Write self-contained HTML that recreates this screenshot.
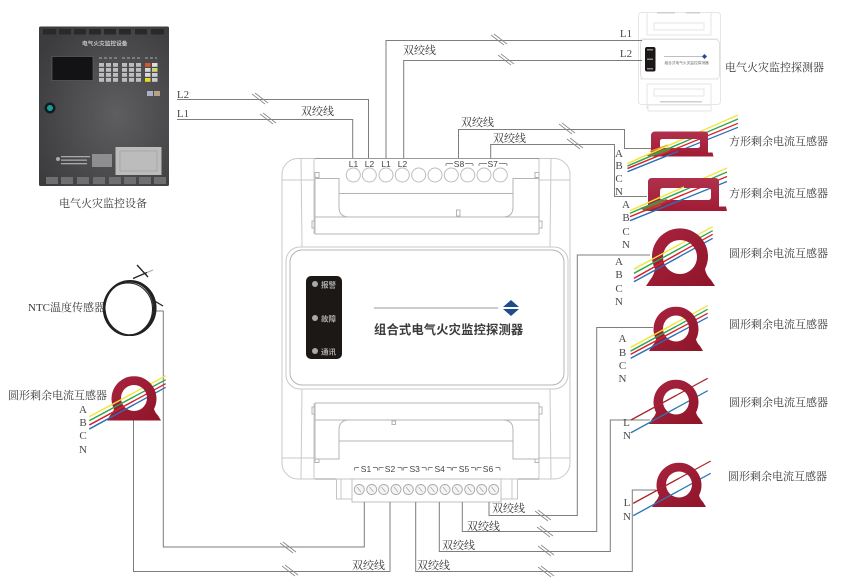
<!DOCTYPE html>
<html><head><meta charset="utf-8"><style>
html,body{margin:0;padding:0;background:#fff}
svg{display:block;filter:blur(.3px)}
.t{font-family:"Liberation Serif","Noto Serif CJK SC",serif;font-size:11px;fill:#3a3a3a}
.l{font-family:"Liberation Serif","Noto Serif CJK SC",serif;font-size:11px;fill:#4a4a4a}
.s{font-family:"Liberation Sans",sans-serif;font-size:8.5px;fill:#444;text-anchor:middle}
.w{fill:none;stroke:#7d7d7d;stroke-width:1}
.d{fill:none;stroke:#c9c9c9;stroke-width:1}
.d2{fill:none;stroke:#b4b4b4;stroke-width:1}
</style></head><body>
<svg width="850" height="587" viewBox="0 0 850 587" xmlns="http://www.w3.org/2000/svg">
<defs>
<radialGradient id="pg" cx="60%" cy="55%" r="70%"><stop offset="0" stop-color="#5e5e60"/><stop offset="1" stop-color="#3c3c3e"/></radialGradient>
<linearGradient id="rg" x1="0" y1="0" x2="1" y2="1"><stop offset="0" stop-color="#a92340"/><stop offset="1" stop-color="#8e1528"/></linearGradient>
<linearGradient id="sq" x1="0" y1="0" x2="0" y2="1"><stop offset="0" stop-color="#b0304c"/><stop offset="1" stop-color="#a01c34"/></linearGradient>
<g id="sl"><path d="M0 0L13 10M3 -1L16 9" fill="none" stroke="#888" stroke-width=".8"/></g>
<path id="ring" fill="url(#rg)" fill-rule="evenodd" d="M649 351L652 346Q655 343 656 339.5A22.5 22.5 0 1 1 696 339.5Q697 343 700 346L703 351ZM663 328.5a13 13 0 1 0 26 0a13 13 0 1 0 -26 0Z"/>
<path id="br" fill="none" stroke="#555" stroke-width=".7" d="M-11.5 3V1Q-11.5 0 -10.5 0H-7M7 0H10.5Q11.5 0 11.5 1V3"/>
<g id="w1" stroke-width="1.3"><path d="M627.500 163.500L738 115" stroke="#f2e53a"/><path d="M627.500 166L738 119" stroke="#2ea650"/><path d="M627.500 168.500L738 123.300" stroke="#d9222d"/><path d="M627.500 171.700L738 127.300" stroke="#2c70b8"/></g>
<g id="w2" stroke-width="1.3"><path d="M630 210.700L727 168" stroke="#f2e53a"/><path d="M630 213.300L727 172" stroke="#2ea650"/><path d="M630 216.700L727 176.500" stroke="#d9222d"/><path d="M630 220.700L727 181.500" stroke="#2c70b8"/></g>
<g id="w3" stroke-width="1.3"><path d="M634 269L712.7 226.7" stroke="#f2e53a"/><path d="M634 273.3L712.7 230.7" stroke="#2ea650"/><path d="M634 278.3L712.7 234.3" stroke="#d9222d"/><path d="M634 281.7L712.7 238.3" stroke="#2c70b8"/></g>
<g id="w4" stroke-width="1.3"><path d="M630.7 347.3L707.7 305.7" stroke="#f2e53a"/><path d="M630.7 351L707.7 309.3" stroke="#2ea650"/><path d="M630.7 354.3L707.7 313.3" stroke="#d9222d"/><path d="M630.7 358.3L707.7 317.3" stroke="#2c70b8"/></g>
<g id="w5" stroke-width="1.2"><path d="M631 420L707.7 378.3" stroke="#a8262c"/><path d="M631 432.7L707.7 390.7" stroke="#2a7ab5"/></g>
<g id="w6" stroke-width="1.2"><path d="M633.3 503.3L710.7 461" stroke="#a8262c"/><path d="M633.3 515.7L710.7 473.3" stroke="#2a7ab5"/></g>
<g id="w7" stroke-width="1.3"><path d="M89.3 416.7L165.7 375.7" stroke="#f2e53a"/><path d="M89.3 420.7L165.7 379.7" stroke="#2ea650"/><path d="M89.3 425L165.7 383.7" stroke="#d9222d"/><path d="M89.3 429L165.7 387.3" stroke="#2c70b8"/></g>
<clipPath id="c1"><rect x="600" y="100" width="78" height="90"/></clipPath>
<clipPath id="c2"><rect x="600" y="150" width="84" height="90"/></clipPath>
<clipPath id="c3"><rect x="600" y="210" width="80" height="90"/></clipPath>
<clipPath id="c4"><rect x="600" y="290" width="76" height="80"/></clipPath>
<clipPath id="c5"><rect x="600" y="370" width="76" height="70"/></clipPath>
<clipPath id="c6"><rect x="600" y="450" width="79" height="70"/></clipPath>
<clipPath id="c7"><rect x="60" y="360" width="74" height="80"/></clipPath>
</defs>
<rect width="850" height="587" fill="#fff"/>

<!-- Monitor panel -->
<rect x="39" y="26.5" width="130" height="159.5" rx="1.5" fill="url(#pg)"/>
<g fill="#29292a"><rect x="43" y="29" width="13" height="5.500"/><rect x="59" y="29" width="12" height="5.500"/><rect x="74" y="29" width="12" height="5.500"/><rect x="89" y="29" width="12" height="5.500"/><rect x="104" y="29" width="12" height="5.500"/><rect x="119" y="29" width="12" height="5.500"/><rect x="135" y="29" width="12" height="5.500"/><rect x="151" y="29" width="13" height="5.500"/></g>
<g fill="#6e6f70"><rect x="46" y="177" width="12" height="7"/><rect x="61" y="177" width="12" height="7"/><rect x="77" y="177" width="12" height="7"/><rect x="93" y="177" width="12" height="7"/><rect x="109" y="177" width="12" height="7"/><rect x="124" y="177" width="12" height="7"/><rect x="139" y="177" width="12" height="7"/><rect x="154" y="177" width="12" height="7"/></g>
<text x="82" y="45.500" font-family="'Liberation Sans','Noto Sans CJK SC',sans-serif" font-size="5.700" font-weight="bold" fill="#c4c4c4">电气火灾监控设备</text>
<rect x="52" y="56.500" width="41" height="24" fill="#131316" stroke="#6a6a6a" stroke-width=".6"/>
<g fill="#bdbdbd"><rect x="99" y="63" width="5" height="3.800"/><rect x="106" y="63" width="5" height="3.800"/><rect x="113" y="63" width="5" height="3.800"/><rect x="122" y="63" width="5" height="3.800"/><rect x="129" y="63" width="5" height="3.800"/><rect x="136" y="63" width="5" height="3.800"/>
<rect x="99" y="68" width="5" height="3.800"/><rect x="106" y="68" width="5" height="3.800"/><rect x="113" y="68" width="5" height="3.800"/><rect x="122" y="68" width="5" height="3.800"/><rect x="129" y="68" width="5" height="3.800"/><rect x="136" y="68" width="5" height="3.800"/>
<rect x="99" y="73" width="5" height="3.800"/><rect x="106" y="73" width="5" height="3.800"/><rect x="113" y="73" width="5" height="3.800"/><rect x="122" y="73" width="5" height="3.800"/><rect x="129" y="73" width="5" height="3.800"/><rect x="136" y="73" width="5" height="3.800"/>
<rect x="99" y="78" width="5" height="3.800"/><rect x="106" y="78" width="5" height="3.800"/><rect x="113" y="78" width="5" height="3.800"/><rect x="122" y="78" width="5" height="3.800"/><rect x="129" y="78" width="5" height="3.800"/><rect x="136" y="78" width="5" height="3.800"/></g>
<rect x="145" y="63" width="5.500" height="3.800" fill="#d8562c"/><rect x="152" y="63" width="5.500" height="3.800" fill="#ddd"/>
<rect x="145" y="68" width="5.500" height="3.800" fill="#d8d8d8"/><rect x="152" y="68" width="5.500" height="3.800" fill="#cfd86a"/>
<rect x="145" y="73" width="5.500" height="3.800" fill="#d8d8d8"/><rect x="152" y="73" width="5.500" height="3.800" fill="#ccd"/>
<rect x="145" y="78" width="5.500" height="3.800" fill="#e8dc20"/><rect x="152" y="78" width="5.500" height="3.800" fill="#ccc"/>
<path d="M99 58H118M122 58H141M145 58H157" stroke="#8c8c8c" stroke-width="1.500" stroke-dasharray="3 2"/>
<rect x="147" y="91" width="6" height="5" fill="#a9b2c4"/><rect x="154" y="91" width="6" height="5" fill="#b8a088"/>
<circle cx="50" cy="108" r="5.500" fill="#0d1d20"/><circle cx="50" cy="108" r="3" fill="#1d9a9c"/>
<rect x="115.500" y="147" width="46" height="28" fill="#bcbcbc"/><rect x="120" y="151" width="37" height="20" fill="none" stroke="#999" stroke-width=".6"/>
<rect x="92" y="154" width="20" height="13" fill="#8e8e8e"/>
<g fill="#aaa"><circle cx="58" cy="159" r="2"/><rect x="61" y="156" width="29" height="1.300"/><rect x="61" y="159.500" width="26" height="1.300"/><rect x="61" y="163" width="26" height="1.300"/></g>

<!-- Detector outline -->
<rect x="282" y="158.500" width="288" height="320.500" rx="16" class="d"/>
<g class="d">
<path d="M282 180H315M539 180H570M282 458H315M539 458H570"/>
<path d="M301 158.500L302 247M551 158.500L550 247M302 389L301 479M550 389L551 479"/>
<path d="M314 158.500V234M539 158.500V234M314 403V479M539 403V479"/>
<rect x="286" y="247" width="282" height="142" rx="14"/>
</g>
<g class="d2">
<rect x="290" y="250" width="274" height="135" rx="12"/>
<path d="M315 178.500H339V193.500H513V178.500H539"/>
<path d="M339 193.500V207Q339 217 349 217H503Q513 217 513 207V193.500"/>
<path d="M315 217H539M315 234H539M315 178.500V234M539 178.500V234"/>
<path d="M315 403H539M315 420H539M315 403V459M539 403V459"/>
<path d="M339 441V430Q339 420 349 420H503Q513 420 513 430V441M339 441H513"/>
<path d="M315 459H339V441M539 459H513V441"/>
<rect x="315" y="172.500" width="4" height="5"/><rect x="535" y="172.500" width="4" height="5"/>
<rect x="312" y="221" width="3" height="7"/><rect x="539" y="221" width="3" height="7"/>
<rect x="312" y="407" width="3" height="7"/><rect x="539" y="407" width="3" height="7"/>
<rect x="315" y="459" width="4" height="3.500"/><rect x="535" y="459" width="4" height="3.500"/>
<rect x="456.500" y="210" width="3.500" height="6"/><rect x="392" y="421" width="3.500" height="3.500"/>
</g>
<path d="M315 158.500H539M315 479H539" fill="none" stroke="#999"/>
<g fill="#fff" stroke="#bdbdbd" stroke-width="1"><circle cx="353.300" cy="175" r="7"/><circle cx="369.300" cy="175" r="7"/><circle cx="386" cy="175" r="7"/><circle cx="402.300" cy="175" r="7"/><circle cx="418.700" cy="175" r="7"/><circle cx="435" cy="175" r="7"/><circle cx="451.300" cy="175" r="7"/><circle cx="467.700" cy="175" r="7"/><circle cx="484" cy="175" r="7"/><circle cx="500.300" cy="175" r="7"/></g>
<text x="353.500" y="167" class="s">L1</text><text x="369.500" y="167" class="s">L2</text><text x="386" y="167" class="s">L1</text><text x="402.500" y="167" class="s">L2</text><text x="459" y="167" class="s">S8</text><text x="492.700" y="167" class="s">S7</text>
<path d="M446 166V164.500Q446 163.500 447 163.500H453M465 163.500H472Q473 163.500 473 164.500V166M479 166V164.500Q479 163.500 480 163.500H487M499 163.500H506Q507 163.500 507 164.500V166" fill="none" stroke="#666" stroke-width=".7"/>

<!-- front label -->
<rect x="306" y="276" width="36" height="83" rx="5" fill="#1c1816"/>
<g fill="#a9a9a9"><circle cx="315" cy="284" r="3"/><circle cx="315" cy="318" r="3"/><circle cx="315" cy="351" r="3"/></g>
<g font-family="'Liberation Sans','Noto Sans CJK SC',sans-serif" font-size="7.500" font-weight="bold" fill="#aaa"><text x="321" y="287.500">报警</text><text x="321" y="321.500">故障</text><text x="321" y="354.500">通讯</text></g>
<path d="M374 308H498" stroke="#999" stroke-width="1"/>
<path d="M511 300L519 307H503ZM503 309H519L511 316Z" fill="#1e4d8c"/>
<text x="374" y="334" font-family="'Liberation Sans','Noto Sans CJK SC',sans-serif" font-size="12.300" letter-spacing=".15" fill="#3a3a3a" font-weight="bold">组合式电气火灾监控探测器</text>

<!-- terminal strip -->
<rect x="336.500" y="479" width="15.500" height="20" fill="#fff" stroke="#c4c4c4"/><rect x="501" y="479" width="16.500" height="20" fill="#fff" stroke="#c4c4c4"/>
<path d="M341 479V499M512 479V499" class="d"/>
<rect x="352" y="479" width="149" height="23" fill="#fff" stroke="#c0c0c0"/>
<g fill="#f5f5f5" stroke="#aaa" stroke-width=".9"><circle cx="359.300" cy="489.500" r="5"/><circle cx="371.700" cy="489.500" r="5"/><circle cx="383.700" cy="489.500" r="5"/><circle cx="396" cy="489.500" r="5"/><circle cx="408.300" cy="489.500" r="5"/><circle cx="420.700" cy="489.500" r="5"/><circle cx="432.700" cy="489.500" r="5"/><circle cx="445" cy="489.500" r="5"/><circle cx="457.300" cy="489.500" r="5"/><circle cx="469.700" cy="489.500" r="5"/><circle cx="481.700" cy="489.500" r="5"/><circle cx="493.700" cy="489.500" r="5"/></g>
<path d="M357 487L361 492M369.500 487L373.500 492M381.500 487L385.500 492M394 487L398 492M406 487L410 492M418.500 487L422.500 492M430.500 487L434.500 492M443 487L447 492M455 487L459 492M467.500 487L471.500 492M479.500 487L483.500 492M491.500 487L495.500 492" stroke="#aaa" stroke-width=".8"/>
<g><use href="#br" x="366" y="467.500"/><use href="#br" x="390.500" y="467.500"/><use href="#br" x="414.700" y="467.500"/><use href="#br" x="439.700" y="467.500"/><use href="#br" x="464" y="467.500"/><use href="#br" x="488.500" y="467.500"/></g>
<text x="366" y="472" class="s">S1</text><text x="390" y="472" class="s">S2</text><text x="414.700" y="472" class="s">S3</text><text x="439.700" y="472" class="s">S4</text><text x="464" y="472" class="s">S5</text><text x="488" y="472" class="s">S6</text>

<!-- mini detector -->
<g stroke="#e6e6e6" fill="none">
<rect x="638.500" y="12.500" width="82" height="92" rx="3"/>
<rect x="648" y="105" width="63" height="6"/>
<path d="M647 13V35H711V13M654 23H704V30H654ZM647 109V84H711V109M654 89H704V96H654ZM640 39H718M640 79H718"/>
</g>
<g fill="#cfcfcf"><rect x="657" y="12" width="18" height="1.500"/><rect x="686" y="12" width="14" height="1.500"/><rect x="660" y="101" width="42" height="1.500"/></g>
<rect x="640.500" y="39.500" width="79" height="39.500" rx="4" fill="#fff" stroke="#e0e0e0"/>
<rect x="645" y="47" width="10.500" height="24.500" rx="2" fill="#1a1716"/>
<g fill="#888"><rect x="647" y="49" width="6" height="1.500"/><rect x="647" y="58.500" width="6" height="1.500"/><rect x="647" y="68" width="6" height="1.500"/></g>
<path d="M664 56.500H702" stroke="#aaa" stroke-width=".7"/><path d="M704.500 54L707 56.500L704.500 59L702 56.500Z" fill="#1e4d8c"/>
<text x="664.500" y="64" font-family="'Liberation Sans','Noto Sans CJK SC',sans-serif" font-size="3.700" fill="#666">组合式电气火灾监控探测器</text>

<!-- wires -->
<g class="w">
<path d="M177 99.500H368.500V158"/><path d="M177 119.500H352.700V158"/>
<path d="M386 158V40.500H642"/><path d="M403.700 158V60.500H642"/>
<path d="M458.500 158V129.500H624.500V148.500H652"/><path d="M490.700 158V144.500H614.500V196.500H647"/>
<path d="M489 502V515.500H577.300V255H650"/>
<path d="M462.300 502V531.500H596.700V327.500H653"/>
<path d="M439.300 502V551.500H610.300V420H650"/>
<path d="M415.700 502V571.500H632.300V490H656"/>
<path d="M390 502V571.500H133.500V420"/>
<path d="M364.300 502V547H163.300V311H153"/>
</g>
<g><use href="#sl" x="252" y="94"/><use href="#sl" x="260" y="114"/><use href="#sl" x="491" y="35"/><use href="#sl" x="498" y="55"/><use href="#sl" x="559" y="124"/><use href="#sl" x="567" y="139"/><use href="#sl" x="535" y="511"/><use href="#sl" x="537" y="527"/><use href="#sl" x="538" y="546"/><use href="#sl" x="538" y="567"/><use href="#sl" x="280" y="543"/><use href="#sl" x="282" y="566"/></g>

<!-- square CT 1 -->
<use href="#w1"/>
<path fill="url(#sq)" fill-rule="evenodd" d="M655 131.500H705Q708 131.500 708 134.500V152.500H712.500L713.500 156.500H651V134.500Q652 131.500 655 131.500ZM663 139H697Q700 139 700 141V146Q700 148 697 148H663Q660 148 660 146V141Q660 139 663 139Z"/>
<path d="M645.500 155L668 147.500L672 147.500L668 152L650 157Z" fill="#8c6a3c"/>
<path d="M650 151.500L668 145" stroke="#e6a030" stroke-width="1.200" fill="none"/>
<use href="#w1" clip-path="url(#c1)"/>
<!-- square CT 2 -->
<use href="#w2"/>
<path fill="url(#sq)" fill-rule="evenodd" d="M652 178H715Q719 178 719 182V206.500H726L727 211H646.500L648 205V182Q648 178 652 178ZM663 188H708Q711 188 711 191V197Q711 200 708 200H663Q660 200 660 197V191Q660 188 663 188Z"/>
<path d="M640 208L668 198.500L660 206L645 211.500Z" fill="#8c6a3c"/>
<path d="M647 203L660 197" stroke="#e6a030" stroke-width="1.200" fill="none"/>
<use href="#w2" clip-path="url(#c2)"/>
<!-- round CTs -->
<use href="#w3"/>
<path fill="url(#rg)" fill-rule="evenodd" d="M646 286L650 280Q654 275 655 269A28 28 0 1 1 705 269Q706 275 711 280L715 286ZM663 257a17 17 0 1 0 34 0a17 17 0 1 0 -34 0Z"/>
<use href="#w3" clip-path="url(#c3)"/>
<use href="#w4"/><use href="#ring"/><use href="#w4" clip-path="url(#c4)"/>
<use href="#w5"/><use href="#ring" transform="translate(0 73)"/><use href="#w5" clip-path="url(#c5)"/>
<use href="#w6"/><use href="#ring" transform="translate(3 156)"/><use href="#w6" clip-path="url(#c6)"/>
<use href="#w7"/><use href="#ring" transform="translate(-542 69.500)"/><use href="#w7" clip-path="url(#c7)"/>

<!-- NTC -->
<g fill="none" stroke="#222" stroke-width="1.100">
<ellipse cx="130" cy="308" rx="26" ry="27.500"/><ellipse cx="130" cy="308" rx="25" ry="27" transform="rotate(12 130 308)"/><ellipse cx="130" cy="308" rx="25" ry="27" transform="rotate(-10 130 308)"/><ellipse cx="129" cy="308.500" rx="25.500" ry="26.500"/><ellipse cx="128.500" cy="308.500" rx="25" ry="27"/><ellipse cx="128" cy="309" rx="24.500" ry="26"/>
<path d="M137 265L148 277" stroke-width="1.300"/><path d="M133 278.500L147 272.500" stroke-width="1.400"/><path d="M147 272.500L153 270" stroke="#aaa"/><path d="M153 300L163 306" stroke-width="1.300"/>
</g>

<!-- labels -->
<g class="t">
<text class="t" x="59" y="207">电气火灾监控设备</text>
<text class="t" x="725" y="71">电气火灾监控探测器</text>
<text class="t" x="729" y="145">方形剩余电流互感器</text>
<text class="t" x="729" y="197">方形剩余电流互感器</text>
<text class="t" x="729" y="257">圆形剩余电流互感器</text>
<text class="t" x="729" y="328">圆形剩余电流互感器</text>
<text class="t" x="729" y="406">圆形剩余电流互感器</text>
<text class="t" x="728" y="480">圆形剩余电流互感器</text>
<text class="t" x="28" y="311">NTC温度传感器</text>
<text class="t" x="8" y="399">圆形剩余电流互感器</text>
<text class="t" x="403" y="54">双绞线</text>
<text class="t" x="301" y="115">双绞线</text>
<text class="t" x="461" y="126">双绞线</text>
<text class="t" x="493" y="142">双绞线</text>
<text class="t" x="492" y="512">双绞线</text>
<text class="t" x="467" y="530">双绞线</text>
<text class="t" x="442" y="549">双绞线</text>
<text class="t" x="417" y="569">双绞线</text>
<text class="t" x="352" y="569">双绞线</text>
</g>
<g class="l" text-anchor="middle">
<text class="l" x="183" y="98" text-anchor="middle">L2</text><text class="l" x="183" y="117" text-anchor="middle">L1</text>
<text class="l" x="626" y="37" text-anchor="middle">L1</text><text class="l" x="626" y="57" text-anchor="middle">L2</text>
<text class="l" x="619" y="157" text-anchor="middle">A</text><text class="l" x="619" y="169" text-anchor="middle">B</text><text class="l" x="619" y="182" text-anchor="middle">C</text><text class="l" x="619" y="195" text-anchor="middle">N</text>
<text class="l" x="626" y="208" text-anchor="middle">A</text><text class="l" x="626" y="221" text-anchor="middle">B</text><text class="l" x="626" y="235" text-anchor="middle">C</text><text class="l" x="626" y="248" text-anchor="middle">N</text>
<text class="l" x="619" y="265" text-anchor="middle">A</text><text class="l" x="619" y="278" text-anchor="middle">B</text><text class="l" x="619" y="292" text-anchor="middle">C</text><text class="l" x="619" y="305" text-anchor="middle">N</text>
<text class="l" x="622.500" y="342" text-anchor="middle">A</text><text class="l" x="622.500" y="356" text-anchor="middle">B</text><text class="l" x="622.500" y="369" text-anchor="middle">C</text><text class="l" x="622.500" y="382" text-anchor="middle">N</text>
<text class="l" x="626.500" y="426" text-anchor="middle">L</text><text class="l" x="627" y="439" text-anchor="middle">N</text>
<text class="l" x="627" y="506" text-anchor="middle">L</text><text class="l" x="627" y="520" text-anchor="middle">N</text>
<text class="l" x="83" y="413" text-anchor="middle">A</text><text class="l" x="83" y="426" text-anchor="middle">B</text><text class="l" x="83" y="439" text-anchor="middle">C</text><text class="l" x="83" y="453" text-anchor="middle">N</text>
</g>
</svg>
</body></html>
